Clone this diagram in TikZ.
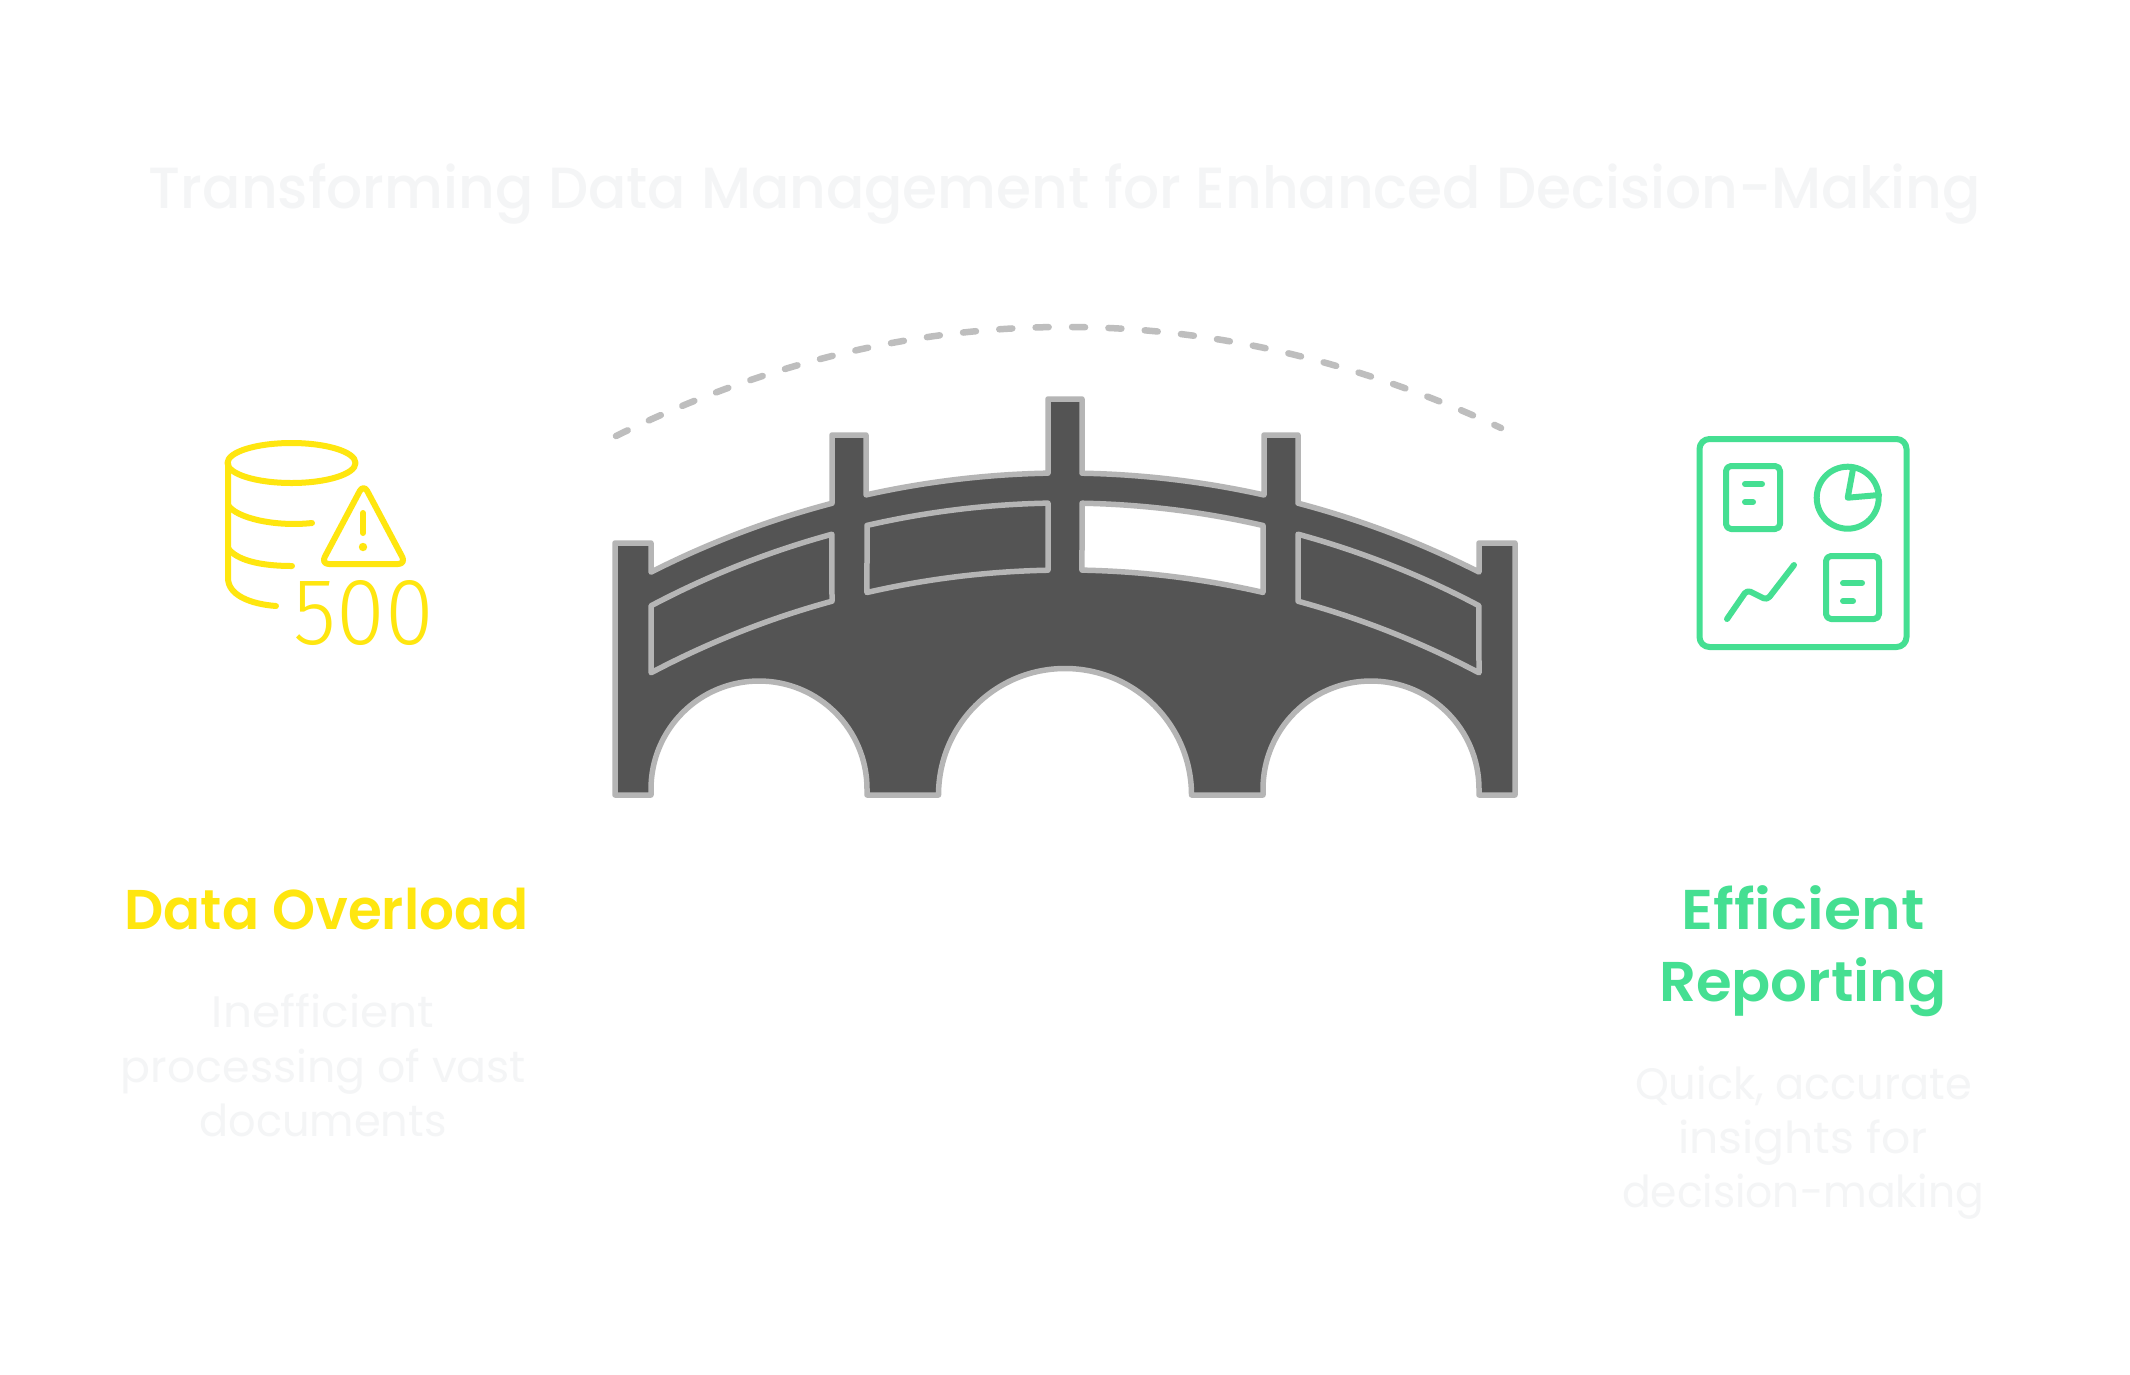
\documentclass[tikz,border=0pt]{standalone}
\usepackage{fontspec}
\usepackage{graphicx}
\setmainfont{Poppins}
\newfontfamily\headfont{Poppins SemiBold}
\newfontfamily\titlefont{Poppins Medium}
\newfontfamily\digitfont{Fira Sans Light}
\newcommand{\fitw}[2]{\resizebox{#1pt}{\height}{#2}}
\definecolor{ttl}{HTML}{F4F5F6}
\definecolor{ylw}{HTML}{FFE60F}
\definecolor{grn}{HTML}{45DF92}
\definecolor{brg}{HTML}{545454}
\definecolor{edg}{HTML}{B5B5B5}
\definecolor{dsh}{HTML}{BEBEBE}
\tikzset{
  bridgepart/.style={fill=brg,draw=edg,line width=5.5pt,line join=round},
  holepart/.style={fill=white,draw=edg,line width=5.5pt,line join=round},
  ylwline/.style={draw=ylw,line width=6pt,line cap=round,line join=round},
  grnline/.style={draw=grn,line width=6pt,line cap=round,line join=round},
  titletext/.style={text=ttl,anchor=base,inner sep=0pt,font=\titlefont\fontsize{58}{70}\selectfont},
  headtext/.style={anchor=base,inner sep=0pt,font=\headfont\fontsize{56}{70}\selectfont},
  bodytext/.style={text=ttl,anchor=base,inner sep=0pt,font=\fontsize{44}{55}\selectfont},
}
\begin{document}
\begin{tikzpicture}[x=1pt,y=-1pt]
\useasboundingbox[fill=white] (0,0) rectangle (2130,1374);
% texts
\node[titletext] (title) at (1065,208) {\fitw{1832}{Transforming Data Management for Enhanced Decision-Making}};
\node[headtext,text=ylw] (hl) at (326.5,929) {\fitw{404}{Data Overload}};
\node[bodytext] (bl1) at (323,1027) {\fitw{222}{Inefficient}};
\node[bodytext] (bl2) at (323.5,1082) {\fitw{405}{processing of vast}};
\node[bodytext] (bl3) at (323,1136) {\fitw{247}{documents}};
\node[headtext,text=grn] (hr1) at (1803,929) {\fitw{243}{Efficient}};
\node[headtext,text=grn] (hr2) at (1803,1001) {\fitw{288}{Reporting}};
\node[bodytext] (br1) at (1803.5,1099) {\fitw{337}{Quick, accurate}};
\node[bodytext] (br2) at (1803,1153) {\fitw{250}{insights for}};
\node[bodytext] (br3) at (1803,1207) {\fitw{362}{decision-making}};
% dashed arc
\draw[draw=dsh,line width=6.5pt,line cap=round,dash pattern=on 13pt off 23.4pt]
  (616,436) .. controls (908,292) and (1210,292) .. (1501,428);
% bridge
\path[bridgepart] (615,795) -- (615,543) -- (651,543) -- (651,572.1)
  arc[start angle=243.10,end angle=255.25,radius=915] -- (832,435) -- (866,435) -- (866,494.9)
  arc[start angle=257.44,end angle=268.94,radius=915] -- (1048,399) -- (1082,399) -- (1082,473.2)
  arc[start angle=271.06,end angle=282.56,radius=915] -- (1264,435) -- (1298,435) -- (1298,503.2)
  arc[start angle=284.75,end angle=296.90,radius=915] -- (1479,543) -- (1515,543) -- (1515,795) -- (1479,795) -- (1479,789)
  arc[start angle=0,end angle=-180,radius=108] -- (1263,795) -- (1191.5,795)
  arc[start angle=0,end angle=-180,radius=126.5] -- (938.5,795) -- (867,795) -- (867,789)
  arc[start angle=0,end angle=-180,radius=108] -- (651,795) -- cycle;
\path[bridgepart] (651,605.8) arc[start angle=242.11,end angle=254.73,radius=885] -- (832,601.2)
  arc[start angle=254.73,end angle=242.11,radius=885] -- cycle;
\path[bridgepart] (867,525.4) arc[start angle=257.07,end angle=268.90,radius=885] -- (1048,570.2)
  arc[start angle=268.90,end angle=257.07,radius=885] -- cycle;
\path[holepart] (1082,503.2) arc[start angle=271.10,end angle=282.93,radius=885] -- (1263,592.4)
  arc[start angle=282.93,end angle=271.10,radius=885] -- cycle;
\path[bridgepart] (1298,534.2) arc[start angle=285.27,end angle=297.89,radius=885] -- (1479,672.8)
  arc[start angle=297.89,end angle=285.27,radius=885] -- cycle;
% yellow icon
\path[ylwline] (291.5,463) ellipse[x radius=64,y radius=20];
\path[ylwline] (228,463) -- (228,578) .. controls (228,595) and (250,604) .. (276,606);
\path[ylwline] (228,505) .. controls (236,518) and (275,527) .. (312,523);
\path[ylwline] (228,548) .. controls (236,560) and (260,566) .. (292,566);
\path[ylwline,rounded corners=8pt] (363.5,484) -- (321,564) -- (406,564) -- cycle;
\path[ylwline] (363,513) -- (363,533);
\fill[ylw] (363,547) circle[radius=4.2];
\node[text=ylw,anchor=center,inner sep=0pt] (num) at (364,613)
  {\resizebox{140pt}{64pt}{\digitfont 500}};
% green icon
\path[grnline,rounded corners=10pt] (1699.5,439) rectangle (1906.5,647);
\path[grnline,rounded corners=5pt] (1726,466) rectangle (1780,529);
\path[grnline] (1745,484) -- (1762,484) (1745,502) -- (1753,502);
\path[grnline] (1847.7,497.7) circle[radius=31];
\path[grnline] (1853,469) -- (1847.7,497.7) -- (1879,495);
\path[grnline,rounded corners=4pt] (1727,619) -- (1747,590) -- (1767,600) -- (1794,565);
\path[grnline,rounded corners=5pt] (1826,556) rectangle (1879,619);
\path[grnline] (1843,583) -- (1862,583) (1843,601) -- (1853,601);
\end{tikzpicture}
\end{document}
